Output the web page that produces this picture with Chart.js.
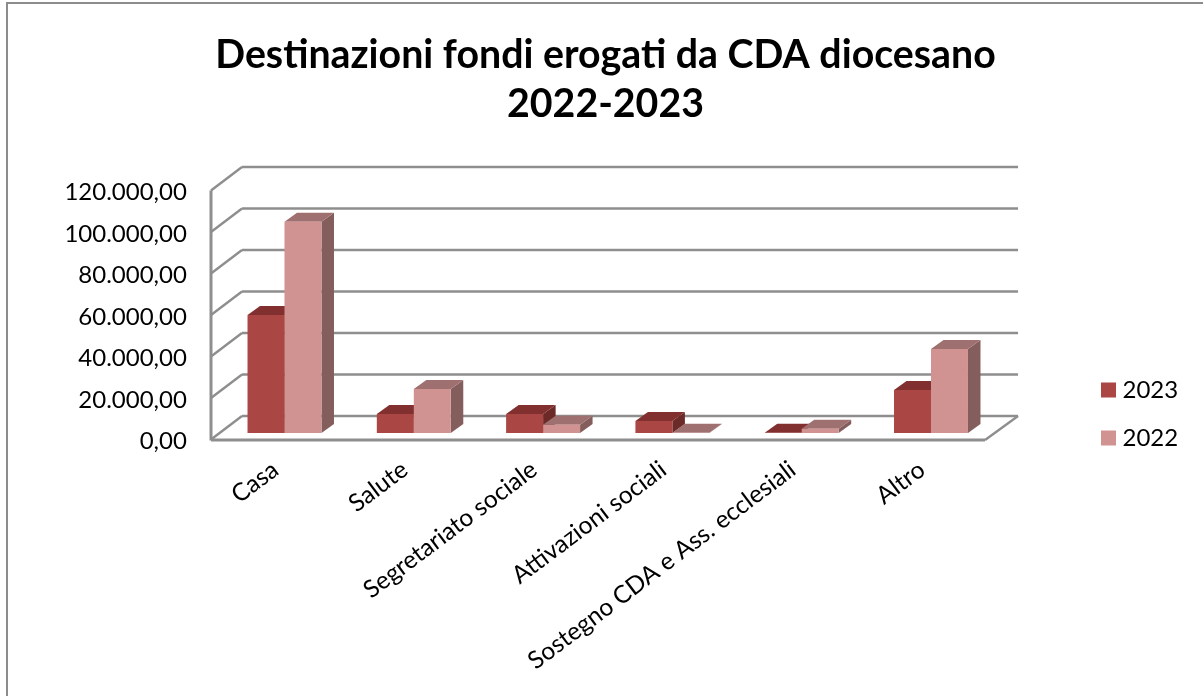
<!DOCTYPE html>
<html lang="it">
<head>
<meta charset="utf-8">
<title>Destinazioni fondi erogati</title>
<script src="https://cdn.jsdelivr.net/npm/chart.js@4"></script>
<style>
  html, body { margin: 0; padding: 0; background: #fff; overflow: hidden; }
  #frame { position: absolute; left: 6px; top: 2px; width: 1197px; height: 694px;
           border-left: 2px solid #8c8c8c; border-top: 2px solid #8c8c8c; }
  #wrap { position: absolute; left: 0; top: 0; width: 1195px; height: 692px; }
</style>
</head>
<body>
<div id="frame"><div id="wrap"><canvas id="c"></canvas></div></div>
<script>
const categories = ['Casa', 'Salute', 'Segretariato sociale', 'Attivazioni sociali', 'Sostegno CDA e Ass. ecclesiali', 'Altro'];
const values2023 = [56900, 9200, 9200, 5800, 150, 20700];
const values2022 = [101800, 21200, 4000, 100, 2100, 40500];
const yTickLabels = ['0,00', '20.000,00', '40.000,00', '60.000,00', '80.000,00', '100.000,00', '120.000,00'];
const titleLines = ['Destinazioni fondi erogati da CDA diocesano', '2022-2023'];

const FONT = 'Lato, Carlito, sans-serif';
const GRID = '#8e8e8e';
const faces = [
  { front: '#aa4643', top: '#82302f', side: '#6b2a28' },
  { front: '#d19392', top: '#9f7070', side: '#845e5c' }
];

// Extrusion of each bar towards the back wall
const BAR_DX = 12.5, BAR_DY = 9;

// Walls and floor of the box, placed relative to the plane the bars stand on
const box3d = {
  id: 'box3d',
  afterLayout(chart) {
    // The legend sits low on the right; the title is centred on the whole canvas
    const lg = chart.legend;
    lg.left = 1074.5;
    lg.top = 350;
    lg.bottom = lg.top + 200;
    lg.right = lg.left + 120;
    chart.titleBlock.left = 0;
    chart.titleBlock.right = chart.width;
  },
  beforeDatasetsDraw(chart) {
    const { ctx, chartArea: a, scales: { y } } = chart;
    const frontL = a.left - 8.85, backL = frontL + 31;
    const frontR = a.right - 10.6, backR = frontR + 33;
    const toFront = 6.5, toBack = -17;
    ctx.save();
    ctx.strokeStyle = GRID;
    ctx.lineCap = 'butt';
    const line = (x1, y1, x2, y2, w) => {
      ctx.lineWidth = w;
      ctx.beginPath(); ctx.moveTo(x1, y1); ctx.lineTo(x2, y2); ctx.stroke();
    };
    y.ticks.forEach(t => {
      const p = y.getPixelForValue(t.value);
      line(backL, p + toBack, backR, p + toBack, 2.6);
      line(frontL, p + toFront, backL, p + toBack, 2.4);
    });
    const p0 = y.getPixelForValue(0), pTop = y.getPixelForValue(y.max);
    line(frontL, pTop + toFront, frontL, p0 + toFront + 1, 3);
    line(frontL, p0 + toFront + 0.5, frontR, p0 + toFront + 0.5, 3);
    line(frontR, p0 + toFront + 0.5, backR, p0 + toBack, 2.4);

    // Side and top faces go first, the library paints the front faces over them
    chart.data.datasets.forEach((ds, di) => {
      const colours = faces[di];
      chart.getDatasetMeta(di).data.forEach(bar => {
        const l = bar.x - bar.width / 2, r = bar.x + bar.width / 2;
        ctx.fillStyle = colours.side;
        ctx.beginPath();
        ctx.moveTo(r, bar.y); ctx.lineTo(r + BAR_DX, bar.y - BAR_DY);
        ctx.lineTo(r + BAR_DX, bar.base - BAR_DY); ctx.lineTo(r, bar.base);
        ctx.closePath(); ctx.fill();
        ctx.fillStyle = colours.top;
        ctx.beginPath();
        ctx.moveTo(l, bar.y); ctx.lineTo(l + BAR_DX, bar.y - BAR_DY);
        ctx.lineTo(r + BAR_DX, bar.y - BAR_DY); ctx.lineTo(r, bar.y);
        ctx.closePath(); ctx.fill();
      });
    });
    ctx.restore();
  }
};

new Chart(document.getElementById('c'), {
  type: 'bar',
  data: {
    labels: categories,
    datasets: [
      { label: '2023', data: values2023, backgroundColor: faces[0].front, borderWidth: 0 },
      { label: '2022', data: values2022, backgroundColor: faces[1].front, borderWidth: 0 }
    ]
  },
  plugins: [box3d],
  options: {
    responsive: true,
    maintainAspectRatio: false,
    animation: false,
    layout: { padding: { left: 0, right: 207.35, top: 0, bottom: 0 } },
    datasets: { bar: { barPercentage: 1, categoryPercentage: 0.572 } },
    scales: {
      x: {
        grid: { display: false },
        border: { display: false },
        afterFit(s) { s.height = 263; },
        ticks: {
          color: '#000',
          font: { family: FONT, size: 24.5 },
          maxRotation: 37, minRotation: 37,
          autoSkip: false,
          padding: 14,
          labelOffset: -9
        }
      },
      y: {
        min: 0, max: 120000,
        grid: { display: false },
        border: { display: false },
        afterFit(s) { s.width = 211.85; },
        afterBuildTicks(s) {
          s.ticks = yTickLabels.map((_, i) => ({ value: i * 20000 }));
        },
        ticks: {
          color: '#000',
          font: { family: FONT, size: 24 },
          padding: 25,
          labelOffset: 8.5,
          callback: (v, i) => yTickLabels[i]
        }
      }
    },
    plugins: {
      title: {
        display: true,
        text: titleLines,
        color: '#000',
        font: { family: FONT, size: 39.3, weight: 'bold', lineHeight: 1.25 },
        padding: { top: 27, bottom: 54.75 }
      },
      legend: {
        position: 'chartArea',
        align: 'start',
        labels: {
          color: '#000',
          font: { family: FONT, size: 24 },
          usePointStyle: true,
          pointStyle: 'rect',
          boxWidth: 4, boxHeight: 15,
          padding: 24
        }
      },
      tooltip: { enabled: false }
    }
  }
});
</script>
</body>
</html>
